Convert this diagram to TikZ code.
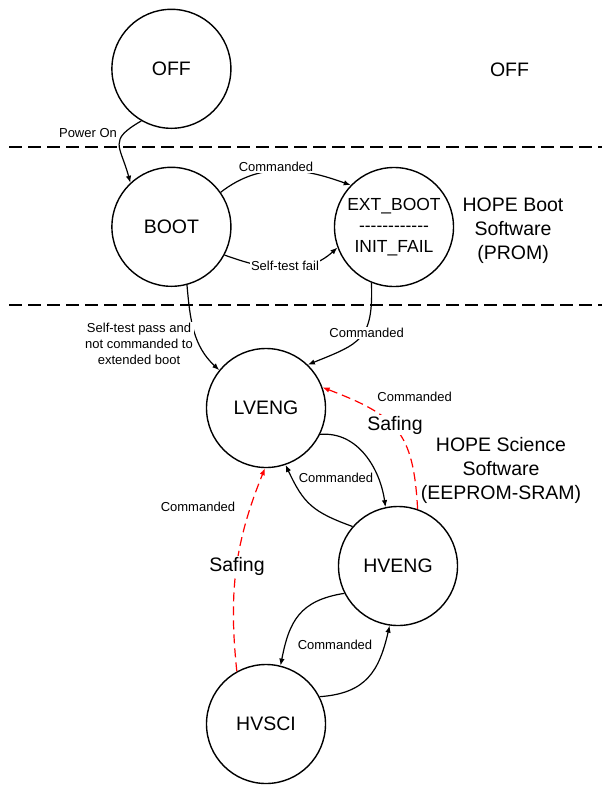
\documentclass[tikz,border=0pt]{standalone}
\usepackage{fontspec}
\setmainfont{Liberation Sans}
\usetikzlibrary{arrows.meta}
\newcommand\extdashes{-\kern0pt-\kern0pt-\kern0pt-\kern0pt-\kern0pt-\kern0pt-\kern0pt-\kern0pt-\kern0pt-\kern0pt-\kern0pt-}
\begin{document}
\begin{tikzpicture}[x=1pt,y=-1pt,
  state/.style={circle,draw,line width=1.4pt,minimum size=119pt,inner sep=0pt,font=\fontsize{19.5}{24}\selectfont},
  conn/.style={line width=1.2pt,-{Latex[length=7pt,width=5.5pt]}},
  safe/.style={conn,red,dash pattern=on 9pt off 5pt},
  small/.style={font=\fontsize{13}{16}\selectfont,inner sep=1pt,align=center},
  smallw/.style={small,fill=white},
  big/.style={font=\fontsize{19.5}{24}\selectfont,align=center,inner sep=1pt},
  bigw/.style={big,fill=white},
  sep/.style={line width=1.4pt,dash pattern=on 13pt off 6pt}]

\useasboundingbox (0,0) rectangle (602,785);

% separators
\coordinate (s1a) at (9,147);  \coordinate (s1b) at (602,147);
\coordinate (s2a) at (9,305);  \coordinate (s2b) at (602,305);
\draw[sep] (s1a) -- (s1b);
\draw[sep] (s2a) -- (s2b);

% states
\node[state] (off) at (171.4,68.8) {OFF};
\node[state] (boot) at (171.4,226.8) {BOOT};
\node[state,align=center,font=\fontsize{17.5}{21}\selectfont] (ext) at (394,227) {EXT\_BOOT\\\extdashes\\INIT\_FAIL};
\node[state] (lveng) at (266,408) {LVENG};
\node[state] (hveng) at (398,566) {HVENG};
\node[state] (hvsci) at (266,724) {HVSCI};

% connectors
\draw[conn] (off.240) to[out=210,in=105,looseness=1.6] (boot.133);
\draw[conn] (boot.35) to[out=38,in=160] (ext.136);
\draw[conn] (boot.332) to[out=-20,in=222] (ext.200);
\draw[conn] (boot.285) to[out=-85,in=137] (lveng.141);
\draw[conn] (ext.248) to[out=-88,in=22,looseness=1.4] (lveng.46);
\draw[conn] (lveng.334) to[out=5,in=98] (hveng.102);
\draw[conn] (hveng.139) to[out=160,in=-65,looseness=1.2] (lveng.289);
\draw[safe] (hveng.71) to[out=93,in=-21,looseness=1.3] (lveng.20);
\draw[safe] (hvsci.119) to[out=96,in=248] (lveng.269);
\draw[conn] (hveng.207) to[out=189,in=79,looseness=1.2] (hvsci.76);
\draw[conn] (hvsci.27) to[out=4,in=257,looseness=1.2] (hveng.262);

% labels
\node[small] (lpower) at (88,133) {Power On};
\node[smallw] (lcmd1) at (276,167) {Commanded};
\node[smallw] (lfail) at (285,266) {Self-test fail};
\node[smallw] (lpass) at (139,344) {Self-test pass and\\not commanded to\\extended boot};
\node[smallw] (lcmd2) at (366.6,333) {Commanded};
\node[small] (lcmd3) at (414.6,397) {Commanded};
\node[bigw] (lsafe1) at (395,425) {Safing};
\node[small] (lcmd4) at (336,478) {Commanded};
\node[small] (lcmd5) at (198,507) {Commanded};
\node[bigw] (lsafe2) at (237,566) {Safing};
\node[small] (lcmd6) at (335,645) {Commanded};

\node[big] (toff) at (509.5,70) {OFF};
\node[big] (tboot) at (513,231) {HOPE Boot\\Software\\(PROM)};
\node[big] (tsci) at (501,470) {HOPE Science\\Software\\(EEPROM-SRAM)};
\end{tikzpicture}
\end{document}
